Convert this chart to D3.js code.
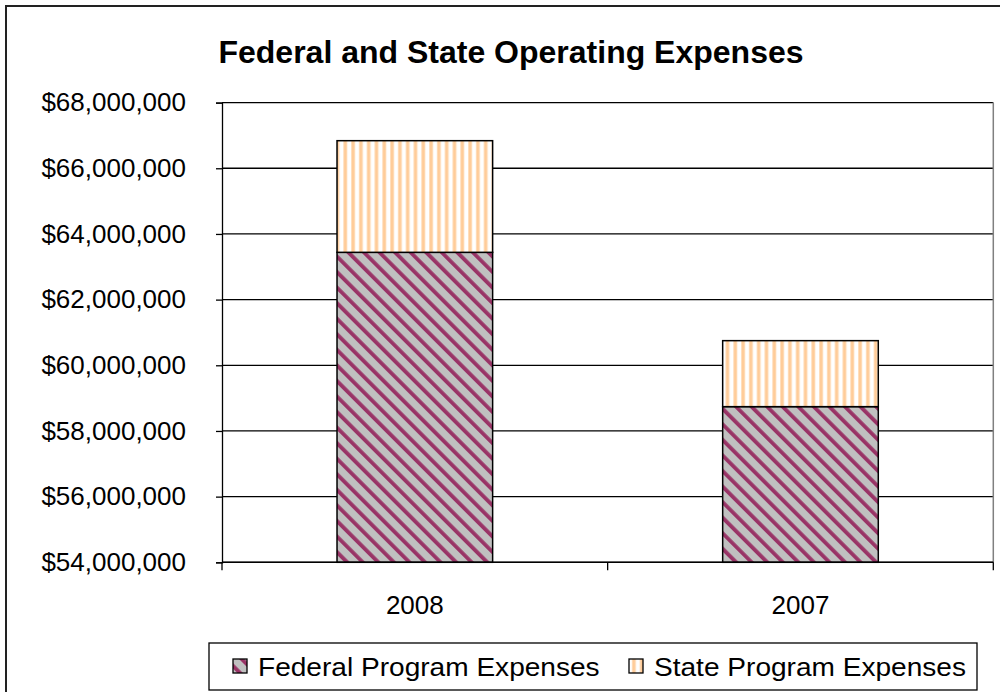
<!DOCTYPE html>
<meta charset="utf-8">
<style>
    body { margin: 0; background: #fff; }
    text { font-family: Arial, "Liberation Sans", sans-serif; fill: #000; }
</style>
<body>
<script src="https://cdn.jsdelivr.net/npm/d3@7"></script>
<script>

    var categories = ["2008", "2007"];
    var federal = [63440000, 58740000];
    var state = [3400000, 2010000];
    var yTicks = [54000000, 56000000, 58000000, 60000000, 62000000, 64000000, 66000000, 68000000];
    var seriesNames = ["Federal Program Expenses", "State Program Expenses"];

    var width = 1000, height = 692;
    var plot = {left: 222, right: 993.3, top: 102.6, bottom: 562.3};

    var svg = d3.select("body").append("svg")
            .attr("width", width)
            .attr("height", height);

    var defs = svg.append("defs");

    // wide downward diagonal, maroon on grey
    var fedPat = defs.append("pattern")
            .attr("id", "fedPat")
            .attr("patternUnits", "userSpaceOnUse")
            .attr("width", 11)
            .attr("height", 11)
            .attr("patternTransform", "rotate(-45)");
    fedPat.append("rect").attr("width", 11).attr("height", 11).attr("fill", "#C0C0C0");
    fedPat.append("rect").attr("width", 3.8).attr("height", 11).attr("fill", "#993366");

    // vertical stripes, peach on white
    var statePat = defs.append("pattern")
            .attr("id", "statePat")
            .attr("patternUnits", "userSpaceOnUse")
            .attr("width", 7.8)
            .attr("height", 8);
    statePat.append("rect").attr("width", 7.8).attr("height", 8).attr("fill", "#fff");
    statePat.append("rect").attr("x", 0).attr("width", 4.2).attr("height", 8).attr("fill", "#FFE2C4");
    statePat.append("rect").attr("x", 0.8).attr("width", 2.6).attr("height", 8).attr("fill", "#FFCC99");

    // chart border
    svg.append("rect")
            .attr("x", 6).attr("y", 6)
            .attr("width", 1010).attr("height", 700)
            .attr("fill", "none")
            .attr("stroke", "#222")
            .attr("stroke-width", 2);

    svg.append("text")
            .attr("x", 511)
            .attr("y", 63)
            .attr("text-anchor", "middle")
            .style("font-size", "32px")
            .style("font-weight", "bold")
            .text("Federal and State Operating Expenses");

    var x = d3.scaleBand()
            .domain(categories)
            .range([plot.left, plot.right])
            .paddingInner(0.5965)
            .paddingOuter(0.29825);

    var y = d3.scaleLinear()
            .domain([54000000, 68000000])
            .range([plot.bottom, plot.top]);

    // gridlines
    svg.append("g")
        .selectAll("line")
        .data(yTicks)
        .join("line")
            .attr("x1", plot.left)
            .attr("x2", plot.right)
            .attr("y1", function(d) { return y(d); })
            .attr("y2", function(d) { return y(d); })
            .attr("stroke", "#000")
            .attr("stroke-width", 1.3);

    // plot area right border
    svg.append("line")
            .attr("x1", plot.right).attr("x2", plot.right)
            .attr("y1", plot.top).attr("y2", plot.bottom)
            .attr("stroke", "#808080")
            .attr("stroke-width", 1.5);

    var yAxis = d3.axisLeft(y)
            .tickValues(yTicks)
            .tickSize(6)
            .tickPadding(30)
            .tickFormat(function(d) { return "$" + d3.format(",")(d); });

    svg.append("g")
            .attr("transform", "translate(" + plot.left + ",0)")
            .call(yAxis)
            .call(function(g) {
                g.selectAll("text").style("font-size", "26px").style("font-family", "Arial, 'Liberation Sans', sans-serif");
                g.selectAll("line, path").attr("stroke", "#000").attr("stroke-width", 1.3);
            });

    // bars
    var bars = svg.append("g");
    bars.selectAll("rect.fed")
        .data(categories)
        .join("rect")
            .attr("class", "fed")
            .attr("x", function(d) { return x(d); })
            .attr("width", x.bandwidth())
            .attr("y", function(d, i) { return y(federal[i]); })
            .attr("height", function(d, i) { return y(54000000) - y(federal[i]); })
            .attr("fill", "url(#fedPat)")
            .attr("stroke", "#000")
            .attr("stroke-width", 1.5);

    bars.selectAll("rect.state")
        .data(categories)
        .join("rect")
            .attr("class", "state")
            .attr("x", function(d) { return x(d); })
            .attr("width", x.bandwidth())
            .attr("y", function(d, i) { return y(federal[i] + state[i]); })
            .attr("height", function(d, i) { return y(federal[i]) - y(federal[i] + state[i]); })
            .attr("fill", "url(#statePat)")
            .attr("stroke", "#000")
            .attr("stroke-width", 1.5);

    // category axis
    var xAxisG = svg.append("g");
    xAxisG.append("line")
            .attr("x1", plot.left).attr("x2", plot.right)
            .attr("y1", plot.bottom).attr("y2", plot.bottom)
            .attr("stroke", "#000")
            .attr("stroke-width", 1.5);

    var bounds = [plot.left].concat(categories.map(function(d) { return x(d) + x.bandwidth() + x.step() * x.paddingInner() / 2; }));
    xAxisG.selectAll("line.tick")
        .data(bounds)
        .join("line")
            .attr("class", "tick")
            .attr("x1", function(d) { return d; })
            .attr("x2", function(d) { return d; })
            .attr("y1", plot.bottom)
            .attr("y2", plot.bottom + 8)
            .attr("stroke", "#000")
            .attr("stroke-width", 1.3);

    xAxisG.selectAll("text")
        .data(categories)
        .join("text")
            .attr("x", function(d) { return x(d) + x.bandwidth() / 2; })
            .attr("y", 614)
            .attr("text-anchor", "middle")
            .style("font-size", "26px")
            .text(function(d) { return d; });

    // legend
    var legend = svg.append("g");
    legend.append("rect")
            .attr("x", 209).attr("y", 643)
            .attr("width", 768).attr("height", 47)
            .attr("fill", "#fff")
            .attr("stroke", "#000")
            .attr("stroke-width", 1.3);

    var legendX = [233, 629];
    var legendFill = ["url(#fedPat)", "url(#statePat)"];
    seriesNames.forEach(function(name, i) {
        legend.append("rect")
                .attr("x", legendX[i]).attr("y", 659)
                .attr("width", 14).attr("height", 14)
                .attr("fill", legendFill[i])
                .attr("stroke", "#000")
                .attr("stroke-width", 1.3);
        legend.append("text")
                .attr("x", legendX[i] + 25)
                .attr("y", 676)
                .attr("transform", "translate(" + (legendX[i] + 25) + ",0) scale(1.08,1) translate(" + (-(legendX[i] + 25)) + ",0)")
                .style("font-size", "26px")
                .text(name);
    });

</script>
</body>
